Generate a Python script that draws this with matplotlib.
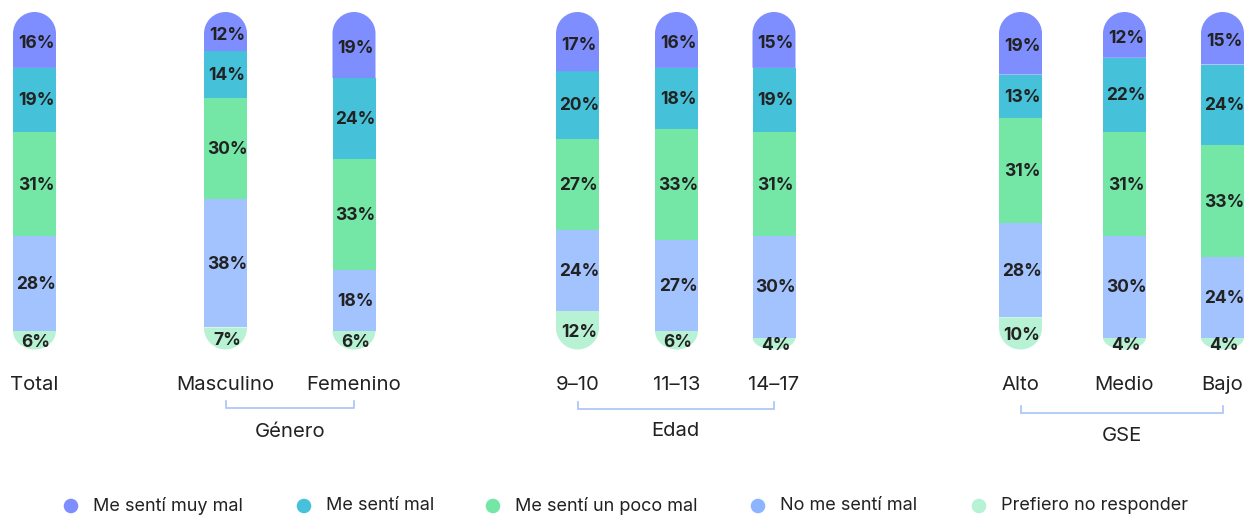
import matplotlib
matplotlib.use("Agg")
import matplotlib.pyplot as plt
import numpy as np
from matplotlib.path import Path
from matplotlib.patches import PathPatch

plt.rcParams['font.family'] = ['Inter', 'DejaVu Sans']

categories = ["Total", "Masculino", "Femenino", "9-10", "11-13", "14-17", "Alto", "Medio", "Bajo"]
series = ["Me sentí muy mal", "Me sentí mal", "Me sentí un poco mal", "No me sentí mal", "Prefiero no responder"]
muy_mal = [16, 12, 19, 17, 16, 15, 19, 12, 15]
mal = [19, 14, 24, 20, 18, 19, 13, 22, 24]
poco_mal = [31, 30, 33, 27, 33, 31, 31, 31, 33]
no_mal = [28, 38, 18, 24, 27, 30, 28, 30, 24]
no_resp = [6, 7, 6, 12, 6, 4, 10, 4, 4]
groups = [("Género", 1, 2), ("Edad", 3, 5), ("GSE", 6, 8)]

colors = ["#7F8EFF", "#45C1D9", "#74E6A6", "#A3C3FF", "#B8F2D4"]
legend_colors = ["#7F8EFF", "#45C1D9", "#74E6A6", "#8DB5FF", "#B8F2D4"]
xpos = [34.5, 225.5, 354, 577.5, 676.5, 774, 1020.5, 1124.5, 1222.5]
bar_w = 43
txt_col = "#222222"

W, H = 1251, 517
fig = plt.figure(figsize=(W / 100, H / 100), dpi=100)
base_px, full_px = 351, 14          # pixel rows of 0 % and 100 %
ax = fig.add_axes([0, (H - base_px) / H, 1, (base_px - full_px) / H])
ax.set_xlim(0, W)
ax.set_ylim(0, 100)
ax.axis("off")

y_per_px = 100 / (base_px - full_px)
y_top = (base_px - 12) * y_per_px      # rounded cap reaches the top row
y_bot = (base_px - 349.5) * y_per_px   # rounded bottom ends here
r_full = bar_w / 2 * y_per_px
K = 0.5523


def seg_path(x0, x1, y0, y1, round_top, round_bot):
    rx = (x1 - x0) / 2
    h = y1 - y0
    xc = (x0 + x1) / 2
    verts, codes = [], []
    if round_bot:
        ry = min(r_full, h)
        verts += [(x0, y0 + ry), (x0, y0 + ry - K * ry), (xc - K * rx, y0), (xc, y0),
                  (xc + K * rx, y0), (x1, y0 + ry - K * ry), (x1, y0 + ry)]
        codes += [Path.MOVETO] + [Path.CURVE4] * 6
    else:
        verts += [(x0, y0), (x1, y0)]
        codes += [Path.MOVETO, Path.LINETO]
    if round_top:
        ry = min(r_full, h)
        verts += [(x1, y1 - ry), (x1, y1 - ry + K * ry), (xc + K * rx, y1), (xc, y1),
                  (xc - K * rx, y1), (x0, y1 - ry + K * ry), (x0, y1 - ry)]
        codes += [Path.LINETO] + [Path.CURVE4] * 6
    else:
        verts += [(x1, y1), (x0, y1)]
        codes += [Path.LINETO, Path.LINETO]
    verts.append(verts[0])
    codes.append(Path.CLOSEPOLY)
    return Path(verts, codes)


data = np.array([muy_mal, mal, poco_mal, no_mal, no_resp], dtype=float)
n = data.shape[0]
px = y_per_px
for j, x in enumerate(xpos):
    vals = data[:, j]
    cum = 0.0
    bounds = []
    for i in range(n - 1, -1, -1):
        bounds.append((i, cum, cum + vals[i]))
        cum += vals[i]
    for i, y0, y1 in bounds:
        if i == 0:
            y1 = y_top
        if i == n - 1:
            y0 = y_bot
        p = seg_path(x - bar_w / 2, x + bar_w / 2, y0, y1, i == 0, i == n - 1)
        ax.add_patch(PathPatch(p, facecolor=colors[i], edgecolor="none", clip_on=False))
        yc = (y0 + y1) / 2 - 1 * px
        if i == 0:
            yc = (y0 + y1) / 2 - 3.5 * px
        if i == n - 1:
            yc = (y0 + y1) / 2 - 2 * px
        ax.text(x + 1.5, yc, f"{int(vals[i])}%", ha="center", va="center", fontsize=12.5,
                fontweight="bold", color=txt_col)

# overlay for labels
ov = fig.add_axes([0, 0, 1, 1])
ov.set_xlim(0, W)
ov.set_ylim(H, 0)
ov.axis("off")
ov.patch.set_alpha(0)

for x, c in zip(xpos, categories):
    ov.text(x, 385, c.replace("-", "–"), ha="center", va="center", fontsize=14.6, color=txt_col)

group_y = {"Género": (408, 432), "Edad": (409, 431), "GSE": (413, 436)}
for name, a, b in groups:
    ly, ty = group_y[name]
    xa, xb = xpos[a], xpos[b]
    ov.plot([xa, xa, xb, xb], [ly - 7, ly, ly, ly - 7], color="#A8C4F8", lw=1.2,
            solid_joinstyle="miter")
    ov.text((xa + xb) / 2, ty, name, ha="center", va="center", fontsize=14.6, color=txt_col)

leg_x = [71, 304, 493, 758, 979]
for lx, s, col in zip(leg_x, series, legend_colors):
    ov.scatter([lx], [506], s=110, color=col, edgecolors="none")
    ov.text(lx + 22, 506, s, ha="left", va="center", fontsize=13, color=txt_col)

fig.savefig("out.png", dpi=100)
